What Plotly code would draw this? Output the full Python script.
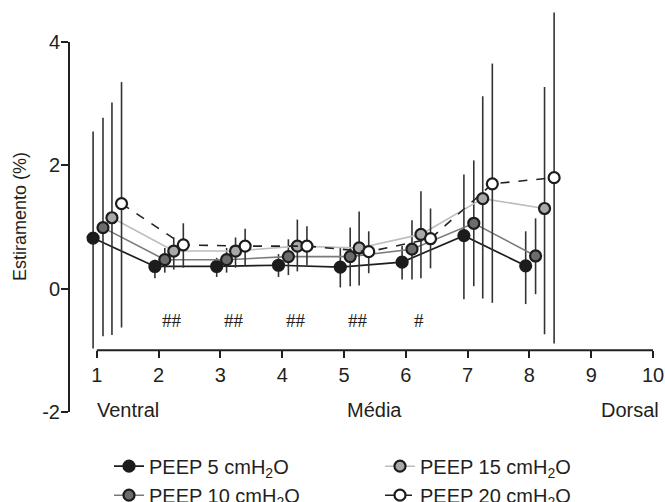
import plotly.graph_objects as go

# ---------------- data ----------------
categories = [1, 2, 3, 4, 5, 6, 7, 8]

series_names = ["PEEP 5 cmH<sub>2</sub>O", "PEEP 10 cmH<sub>2</sub>O",
                "PEEP 15 cmH<sub>2</sub>O", "PEEP 20 cmH<sub>2</sub>O"]

peep5_mean = [0.82, 0.36, 0.36, 0.38, 0.35, 0.43, 0.86, 0.37]
peep5_upper = [2.55, 0.47, 0.50, 0.56, 0.67, 0.69, 1.85, 0.93]
peep5_lower = [-0.97, 0.17, 0.19, 0.19, 0.02, 0.15, -0.17, -0.25]

peep10_mean = [0.99, 0.47, 0.47, 0.52, 0.52, 0.64, 1.06, 0.53]
peep10_upper = [2.77, 0.66, 0.66, 0.80, 0.99, 1.11, 2.08, 1.14]
peep10_lower = [-0.77, 0.26, 0.26, 0.22, 0.04, 0.15, 0.04, -0.09]

peep15_mean = [1.15, 0.61, 0.61, 0.69, 0.66, 0.88, 1.46, 1.30]
peep15_upper = [3.02, 0.83, 0.83, 1.12, 1.25, 1.58, 3.12, 3.27]
peep15_lower = [-0.75, 0.31, 0.34, 0.28, 0.05, 0.17, -0.16, -0.74]

peep20_mean = [1.38, 0.71, 0.69, 0.69, 0.60, 0.81, 1.70, 1.80]
peep20_upper = [3.35, 1.06, 0.97, 1.01, 0.93, 1.30, 3.65, 4.48]
peep20_lower = [-0.63, 0.34, 0.38, 0.38, 0.25, 0.33, -0.23, -0.89]

x_ticks = [1, 2, 3, 4, 5, 6, 7, 8, 9, 10]
y_ticks = [-2, 0, 2, 4]

region_labels = ["Ventral", "Média", "Dorsal"]
region_pos = [1, 5.5, 10]

sig_labels = ["##", "##", "##", "##", "#"]
sig_cats = [2, 3, 4, 5, 6]

# ---------------- styling / geometry ----------------
INK = "#231f20"
FONT = "Liberation Sans, Arial, sans-serif"
offsets = [-0.06, 0.10, 0.245, 0.40]
line_styles = [
    dict(color="#1e1e1e", width=1.7, dash="solid"),
    dict(color="#7a7a7a", width=1.6, dash="solid"),
    dict(color="#bdbdbd", width=1.6, dash="solid"),
    dict(color="#222222", width=1.6, dash="dash"),
]
marker_fill = ["#1c1c1c", "#6c6c6c", "#a8a8a8", "#ffffff"]
legend_rank = [1, 3, 2, 4]

means = [peep5_mean, peep10_mean, peep15_mean, peep20_mean]
uppers = [peep5_upper, peep10_upper, peep15_upper, peep20_upper]
lowers = [peep5_lower, peep10_lower, peep15_lower, peep20_lower]

W, H = 665, 502
ML, MR, MT, MB = 69, 12, 8, 90
plot_w = W - ML - MR
plot_h = H - MT - MB
px_per_unit_y = 61.67
y_min = -2
y_top = y_min + plot_h / px_per_unit_y
x_min, x_max = 0.55, 10.0
x_axis_at = -1

def yfrac(v):
    return (v - y_min) / (y_top - y_min)

def xfrac(v):
    return (v - x_min) / (x_max - x_min)

fig = go.Figure()
for i in range(4):
    xs = [c + offsets[i] for c in categories]
    fig.add_trace(go.Scatter(
        x=xs, y=means[i], name=series_names[i], mode="lines+markers",
        line=line_styles[i],
        marker=dict(size=11, color=marker_fill[i],
                    line=dict(color="#1c1c1c", width=2.2)),
        error_y=dict(type="data", symmetric=False,
                     array=[u - m for u, m in zip(uppers[i], means[i])],
                     arrayminus=[m - l for m, l in zip(means[i], lowers[i])],
                     color="#333333", thickness=1.6, width=0),
        legendrank=legend_rank[i], cliponaxis=False,
    ))

# significance marks
for lab, c in zip(sig_labels, sig_cats):
    fig.add_annotation(x=c + 0.22, y=-0.52, text=lab, showarrow=False,
                       font=dict(family="Liberation Serif, Times New Roman, serif",
                                 size=19, color=INK),
                       xanchor="center", yanchor="middle")

# region labels
anchors = ["left", "center", "right"]
shifts = [-2, 0, 8]
for lab, p, a, s in zip(region_labels, region_pos, anchors, shifts):
    fig.add_annotation(x=p, y=-1.96, text=lab, showarrow=False, xanchor=a,
                       yanchor="middle", xshift=s,
                       font=dict(family=FONT, size=20, color=INK))

# y-axis title
fig.add_annotation(xref="paper", x=(20 - ML) / plot_w, y=1.16, text="Estiramento (%)",
                   textangle=-90, showarrow=False, xanchor="center", yanchor="middle",
                   font=dict(family=FONT, size=18, color=INK))

# axis lines (partial spans, paper coordinates)
fig.add_shape(type="line", xref="paper", yref="paper", x0=0, x1=0,
              y0=yfrac(y_ticks[0]), y1=yfrac(y_ticks[-1]),
              line=dict(color=INK, width=2), layer="above")
fig.add_shape(type="line", xref="paper", yref="paper",
              x0=xfrac(x_ticks[0]), x1=xfrac(x_ticks[-1]),
              y0=yfrac(x_axis_at), y1=yfrac(x_axis_at),
              line=dict(color=INK, width=2), layer="above")

fig.update_layout(
    width=W, height=H,
    margin=dict(l=ML, r=MR, t=MT, b=MB, autoexpand=False),
    plot_bgcolor="white", paper_bgcolor="white",
    font=dict(family=FONT, size=20, color=INK),
    showlegend=True,
    legend=dict(orientation="h", x=(109 - ML) / plot_w, xanchor="left",
                y=-34.7 / plot_h, yanchor="top", entrywidth=226,
                font=dict(family=FONT, size=20, color=INK),
                bgcolor="rgba(0,0,0,0)", tracegroupgap=0),
    xaxis=dict(range=[x_min, x_max], tickvals=x_ticks, ticktext=[str(t) for t in x_ticks],
               anchor="free", position=yfrac(x_axis_at),
               showline=False, showgrid=False, zeroline=False,
               ticks="outside", ticklen=7, tickwidth=2, tickcolor=INK,
               tickfont=dict(family=FONT, size=20, color=INK)),
    yaxis=dict(range=[y_min, y_top], tickvals=y_ticks, ticktext=[str(t) for t in y_ticks],
               showline=False, showgrid=False, zeroline=False,
               ticks="outside", ticklen=7, tickwidth=2, tickcolor=INK,
               ticklabelstandoff=-3,
               tickfont=dict(family=FONT, size=20, color=INK)),
)

fig.write_html("out.html", config={"displayModeBar": False},
               post_script="document.body.style.margin='0';document.body.style.overflow='hidden';")
